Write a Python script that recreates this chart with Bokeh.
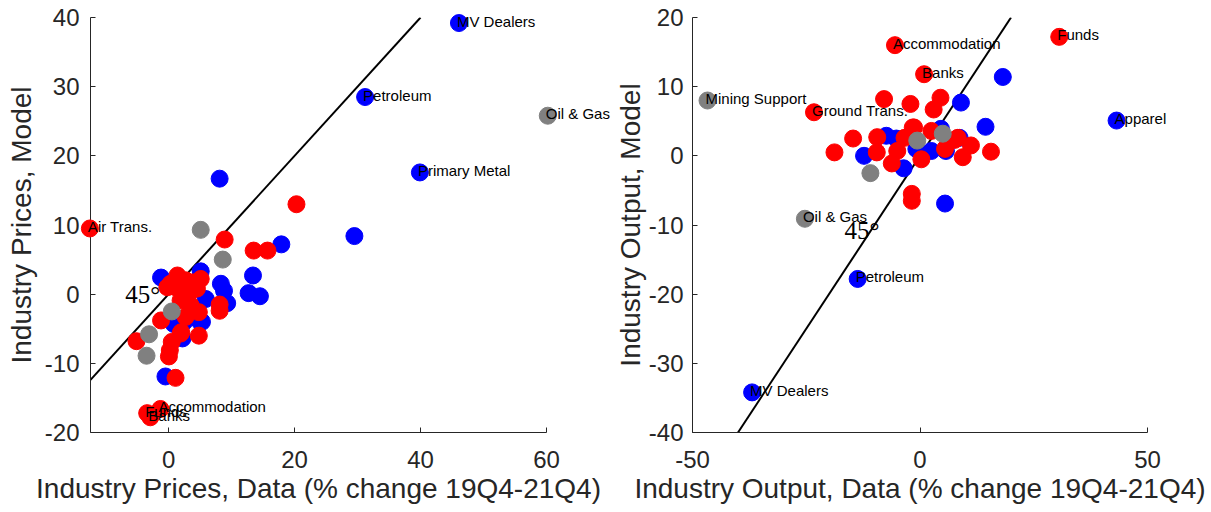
from bokeh.plotting import figure
from bokeh.layouts import row
from bokeh.models import Range1d, FixedTicker, ColumnDataSource
from bokeh.core.properties import value
from bokeh.embed import file_html
from bokeh.resources import INLINE

# ---------------- Left panel: industry prices ----------------
price_blue_x = [46.1, 31.2, 39.9, 8.1, 17.9, 29.5, 13.4, 12.7, 14.5, -1.2, 5.1, 8.3, 8.8, 9.3, 5.9, 5.3, 0.8, 2.2, -0.5, 2.5, 5.0]
price_blue_y = [39.2, 28.5, 17.6, 16.7, 7.2, 8.4, 2.7, 0.15, -0.3, 2.4, 3.3, 1.5, 0.5, -1.3, -0.7, -4.0, -4.3, -6.4, -11.9, -4.0, -4.0]
price_red_x = [-12.5, 20.3, 8.9, 13.5, 15.7, -5.1, -1.2, 0.2, 0.05, 2.0, 4.8, 8.1, 8.1, 4.8, 1.1,
               0.3, 1.4, 2.7, 3.8, 5.1, 4.5, 3.2, 1.9, 3.5, 2.7, 1.1, -0.2, 0.5, 1.9, -1.3, -3.4, -2.9]
price_red_y = [9.5, 13.0, 7.9, 6.3, 6.3, -6.8, -3.8, -8.1, -9.0, -5.5, -6.0, -1.5, -2.4, -2.6, -12.1,
               1.5, 2.7, 2.0, 1.7, 2.2, 0.8, 0.05, -0.9, -1.6, -3.3, 1.0, 1.0, -6.9, -5.7, -16.6, -17.2, -17.8]
price_gray_x = [60.2, 5.1, 8.6, 0.5, -3.1, -3.5]
price_gray_y = [25.8, 9.3, 5.0, -2.5, -5.8, -8.9]
price_label_text = ["MV Dealers", "Petroleum", "Oil & Gas", "Primary Metal", "Air Trans.", "Accommodation", "Funds", "Banks"]
price_label_x = [46.1, 31.2, 60.2, 39.9, -12.5, -1.3, -3.4, -2.9]
price_label_y = [39.2, 28.5, 25.8, 17.6, 9.5, -16.6, -17.2, -17.8]
price_x_ticks = [0, 20, 40, 60]
price_y_ticks = [-20, -10, 0, 10, 20, 30, 40]
price_diag = [-12.4, 40]

# ---------------- Right panel: industry output ----------------
out_blue_x = [43.2, -13.7, -36.9, 18.2, 9.0, 14.4, -7.4, -5.2, 4.6, 8.7, 5.7, 2.5, -0.8, -12.3, -3.6, 5.5]
out_blue_y = [5.1, -17.8, -34.2, 11.4, 7.7, 4.2, 2.9, 2.5, 3.9, 2.6, 0.7, 0.7, 1.0, 0.0, -1.8, -6.9]
out_red_x = [30.6, -5.5, 0.9, -23.3, -7.9, -2.1, 4.5, 3.0, -14.7, -18.8, 15.6, -9.4, -1.3, -3.4, 2.5,
             7.6, 11.2, 5.5, 9.4, 0.3, -9.5, -5.0, -6.2, -1.8, -1.8, 8.3, -1.6]
out_red_y = [17.2, 16.0, 11.8, 6.3, 8.2, 7.5, 8.4, 6.7, 2.5, 0.5, 0.6, 2.7, 4.1, 2.6, 3.6,
             2.3, 1.5, 1.0, -0.2, -0.5, 0.5, 0.7, -1.1, -5.5, -6.5, 2.6, 4.1]
out_gray_x = [-46.7, -25.3, -0.6, 5.0, -10.9]
out_gray_y = [8.0, -9.1, 2.2, 3.2, -2.5]
out_label_text = ["Funds", "Accommodation", "Banks", "Mining Support", "Ground Trans.", "Apparel", "Oil & Gas", "Petroleum", "MV Dealers"]
out_label_x = [30.6, -5.5, 0.9, -46.7, -23.3, 43.2, -25.3, -13.7, -36.9]
out_label_y = [17.2, 16.0, 11.8, 8.0, 6.3, 5.1, -9.1, -17.8, -34.2]
out_x_ticks = [-50, 0, 50]
out_y_ticks = [-40, -30, -20, -10, 0, 10, 20]
out_diag = [-40, 20]

AX = "#262626"
SANS = "Liberation Sans"


def panel(width, xr, yr, xt, yt, xlabel, ylabel, blue, red, gray, labels, diag, deg_pos,
          mb_left, mb_right, y_std, y_lab_std):
    p = figure(width=width, height=512, output_backend="svg", toolbar_location=None,
               x_range=Range1d(*xr), y_range=Range1d(*yr),
               min_border_left=mb_left, min_border_right=mb_right,
               min_border_top=17, min_border_bottom=80)
    p.outline_line_color = None
    p.grid.visible = False
    p.background_fill_color = "white"
    p.border_fill_color = "white"
    p.xaxis.ticker = FixedTicker(ticks=xt)
    p.yaxis.ticker = FixedTicker(ticks=yt)
    p.xaxis.major_label_overrides = {t: str(t) for t in xt}
    p.yaxis.major_label_overrides = {t: str(t) for t in yt}
    for ax in (p.xaxis, p.yaxis):
        ax.axis_line_color = AX
        ax.major_tick_line_color = AX
        ax.major_tick_in = 5
        ax.major_tick_out = 0
        ax.minor_tick_line_color = None
        ax.major_label_text_font = SANS
        ax.major_label_text_font_size = "24px"
        ax.major_label_text_color = AX
        ax.axis_label_text_font = SANS
        ax.axis_label_text_font_size = "28px"
        ax.axis_label_text_font_style = "normal"
        ax.axis_label_text_color = AX
    p.xaxis.major_label_standoff = 18
    p.yaxis.major_label_standoff = y_std
    p.xaxis.axis_label_standoff = 2
    p.yaxis.axis_label_standoff = y_lab_std
    p.xaxis.axis_label = xlabel
    p.yaxis.axis_label = ylabel

    p.line(x=diag, y=diag, line_color="black", line_width=2)
    for (xs, ys), col in ((blue, "#0000FF"), (red, "#FF0000"), (gray, "#808080")):
        r = p.scatter(x=xs, y=ys, size=17, fill_color=col, line_color=col, marker="circle")
        r.level = "overlay"
    src = ColumnDataSource(dict(x=labels[1], y=labels[2], t=labels[0]))
    tr = p.text(x="x", y="y", text="t", source=src, text_align="left", text_baseline="middle",
                text_font=value(SANS), text_font_size="15px", text_color="black", x_offset=-2, y_offset=-2)
    tr.level = "overlay"
    p.text(x=[deg_pos[0]], y=[deg_pos[1]], text=["45°"], text_align="left", text_baseline="middle",
           text_font=value("Liberation Serif"), text_font_size="25px", text_color="black")
    return p


p1 = panel(611, (-12.4, 60), (-20, 40), price_x_ticks, price_y_ticks,
           "Industry Prices, Data (% change 19Q4-21Q4)", "Industry Prices, Model",
           (price_blue_x, price_blue_y), (price_red_x, price_red_y), (price_gray_x, price_gray_y),
           (price_label_text, price_label_x, price_label_y), price_diag, (-6.9, 0), 90, 65, 11, 5)
p2 = panel(599, (-50, 50), (-40, 20), out_x_ticks, out_y_ticks,
           "Industry Output, Data (% change 19Q4-21Q4)", "Industry Output, Model",
           (out_blue_x, out_blue_y), (out_red_x, out_red_y), (out_gray_x, out_gray_y),
           (out_label_text, out_label_x, out_label_y), out_diag, (-16.6, -10.8), 81, 63, 9, 0)

layout = row(p1, p2)
open("out.html", "w").write(file_html(layout, INLINE))
